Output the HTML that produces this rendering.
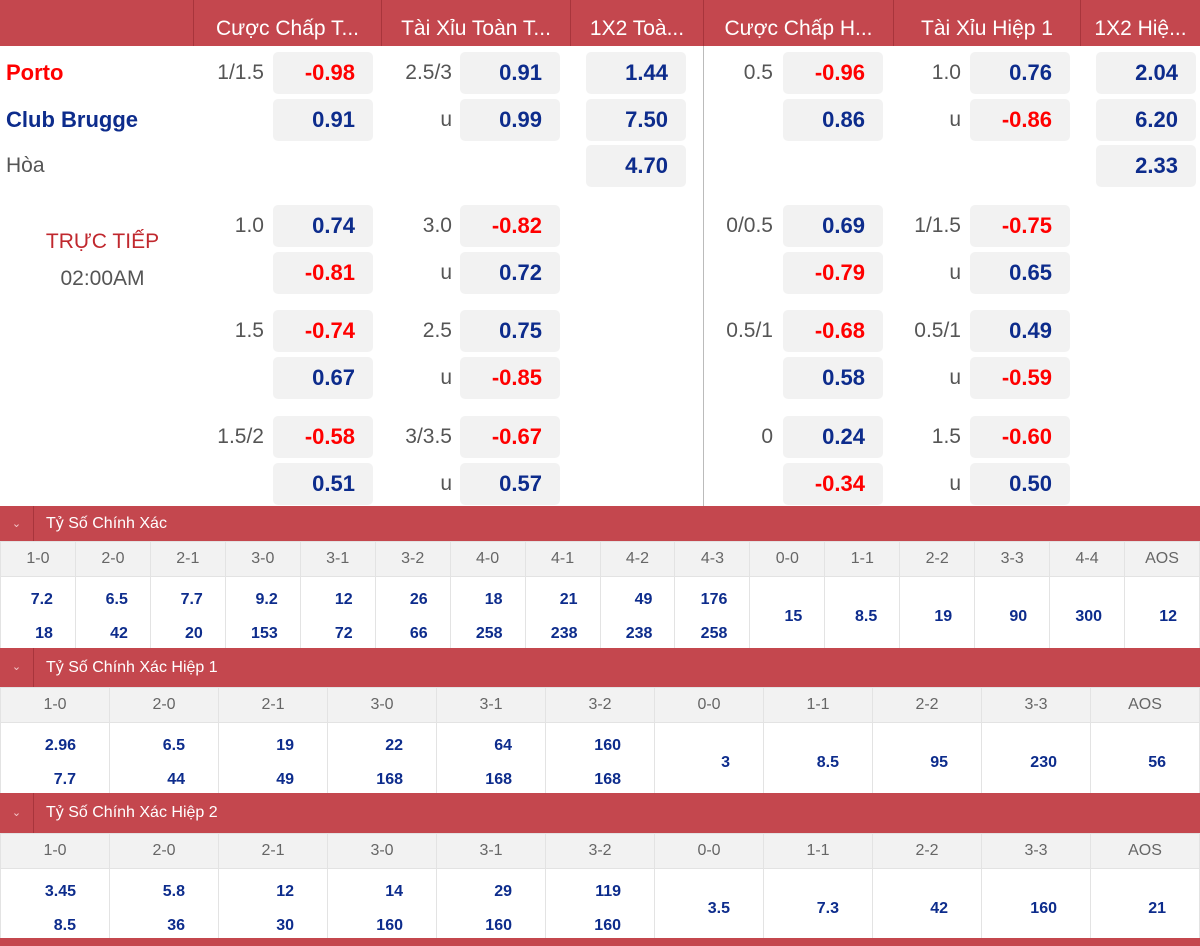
<!DOCTYPE html>
<html><head><meta charset="utf-8">
<style>
*{margin:0;padding:0;box-sizing:border-box}
body{width:1200px;height:946px;overflow:hidden;background:#fff;font-family:"Liberation Sans","DejaVu Sans",sans-serif;position:relative}
.hd{position:absolute;left:0;top:0;width:1200px;height:46px;background:#c4474e}
.hd div{position:absolute;top:0;height:46px;line-height:58px;color:#fff;font-size:21px;text-align:center;border-left:1px solid #a8353c;white-space:nowrap;overflow:hidden}
.l{position:absolute;text-align:right;font-size:21px;color:#555;height:42px;line-height:42px}
.b{position:absolute;width:100px;height:42px;line-height:42px;background:#f2f2f2;border-radius:5px;text-align:right;padding-right:18px;font-size:22px;font-weight:bold}
.r{color:#f00}.u{color:#0d2c8c}
.sec{position:absolute;left:0;width:1200px;background:#c4474e;color:#fff;font-size:16px}
.sec .ch{position:absolute;left:0;top:0;width:34px;height:100%;border-right:1px solid #a8353c;text-align:center;font-size:11px;line-height:36px;color:#f3c8ca}
.sec .t{position:absolute;left:46px;top:0;line-height:36px}
table{position:absolute;left:0;width:1200px;border-collapse:collapse;table-layout:fixed}
td{border:1px solid #e3e3e3;text-align:center}
tr.g td{background:#f2f2f2;color:#666;font-size:16px;height:35px}
tr.v td{color:#0d2c8c;font-weight:bold;font-size:16px;height:70px;text-align:right;line-height:34px;padding-top:6px}
</style></head><body>
<div class="hd">
<div style="left:193px;width:188px">Cược Chấp T...</div>
<div style="left:381px;width:189px">Tài Xỉu Toàn T...</div>
<div style="left:570px;width:133px">1X2 Toà...</div>
<div style="left:703px;width:190px">Cược Chấp H...</div>
<div style="left:893px;width:187px">Tài Xỉu Hiệp 1</div>
<div style="left:1080px;width:120px">1X2 Hiệ...</div>
</div>
<div style="position:absolute;left:703px;top:46px;width:1px;height:460px;background:#bbb"></div>

<div class="l" style="left:6px;top:52px;font-weight:bold;color:#f00;font-size:22px;text-align:left">Porto</div>
<div class="l" style="left:6px;top:99px;font-weight:bold;color:#0d2c8c;font-size:22px;text-align:left">Club Brugge</div>
<div class="l" style="left:6px;top:145px;text-align:left">Hòa</div>
<div style="position:absolute;left:0;width:205px;top:230px;text-align:center;font-size:21px;color:#c0282e">TRỰC TIẾP</div>
<div style="position:absolute;left:0;width:205px;top:267px;text-align:center;font-size:21px;color:#555">02:00AM</div>

<div class="l" style="left:160px;width:104px;top:52px">1/1.5</div>
<div class="b r" style="left:273px;top:52px">-0.98</div>
<div class="b u" style="left:273px;top:99px">0.91</div>
<div class="l" style="left:350px;width:102px;top:52px">2.5/3</div>
<div class="l" style="left:350px;width:102px;top:99px">u</div>
<div class="b u" style="left:460px;top:52px">0.91</div>
<div class="b u" style="left:460px;top:99px">0.99</div>
<div class="b u" style="left:586px;top:52px">1.44</div>
<div class="b u" style="left:586px;top:99px">7.50</div>
<div class="b u" style="left:586px;top:145px">4.70</div>
<div class="l" style="left:670px;width:103px;top:52px">0.5</div>
<div class="b r" style="left:783px;top:52px">-0.96</div>
<div class="b u" style="left:783px;top:99px">0.86</div>
<div class="l" style="left:860px;width:101px;top:52px">1.0</div>
<div class="l" style="left:860px;width:101px;top:99px">u</div>
<div class="b u" style="left:970px;top:52px">0.76</div>
<div class="b r" style="left:970px;top:99px">-0.86</div>
<div class="b u" style="left:1096px;top:52px">2.04</div>
<div class="b u" style="left:1096px;top:99px">6.20</div>
<div class="b u" style="left:1096px;top:145px">2.33</div>

<div class="l" style="left:160px;width:104px;top:205px">1.0</div>
<div class="b u" style="left:273px;top:205px">0.74</div>
<div class="b r" style="left:273px;top:252px">-0.81</div>
<div class="l" style="left:350px;width:102px;top:205px">3.0</div>
<div class="l" style="left:350px;width:102px;top:252px">u</div>
<div class="b r" style="left:460px;top:205px">-0.82</div>
<div class="b u" style="left:460px;top:252px">0.72</div>
<div class="l" style="left:670px;width:103px;top:205px">0/0.5</div>
<div class="b u" style="left:783px;top:205px">0.69</div>
<div class="b r" style="left:783px;top:252px">-0.79</div>
<div class="l" style="left:860px;width:101px;top:205px">1/1.5</div>
<div class="l" style="left:860px;width:101px;top:252px">u</div>
<div class="b r" style="left:970px;top:205px">-0.75</div>
<div class="b u" style="left:970px;top:252px">0.65</div>

<div class="l" style="left:160px;width:104px;top:310px">1.5</div>
<div class="b r" style="left:273px;top:310px">-0.74</div>
<div class="b u" style="left:273px;top:357px">0.67</div>
<div class="l" style="left:350px;width:102px;top:310px">2.5</div>
<div class="l" style="left:350px;width:102px;top:357px">u</div>
<div class="b u" style="left:460px;top:310px">0.75</div>
<div class="b r" style="left:460px;top:357px">-0.85</div>
<div class="l" style="left:670px;width:103px;top:310px">0.5/1</div>
<div class="b r" style="left:783px;top:310px">-0.68</div>
<div class="b u" style="left:783px;top:357px">0.58</div>
<div class="l" style="left:860px;width:101px;top:310px">0.5/1</div>
<div class="l" style="left:860px;width:101px;top:357px">u</div>
<div class="b u" style="left:970px;top:310px">0.49</div>
<div class="b r" style="left:970px;top:357px">-0.59</div>

<div class="l" style="left:160px;width:104px;top:416px">1.5/2</div>
<div class="b r" style="left:273px;top:416px">-0.58</div>
<div class="b u" style="left:273px;top:463px">0.51</div>
<div class="l" style="left:350px;width:102px;top:416px">3/3.5</div>
<div class="l" style="left:350px;width:102px;top:463px">u</div>
<div class="b r" style="left:460px;top:416px">-0.67</div>
<div class="b u" style="left:460px;top:463px">0.57</div>
<div class="l" style="left:670px;width:103px;top:416px">0</div>
<div class="b u" style="left:783px;top:416px">0.24</div>
<div class="b r" style="left:783px;top:463px">-0.34</div>
<div class="l" style="left:860px;width:101px;top:416px">1.5</div>
<div class="l" style="left:860px;width:101px;top:463px">u</div>
<div class="b r" style="left:970px;top:416px">-0.60</div>
<div class="b u" style="left:970px;top:463px">0.50</div>

<div class="sec" style="top:506px;height:35px"><div class="ch">&#8964;</div><div class="t" style="line-height:35px">Tỷ Số Chính Xác</div></div>
<table style="top:541px">
<tr class="g"><td>1-0</td><td>2-0</td><td>2-1</td><td>3-0</td><td>3-1</td><td>3-2</td><td>4-0</td><td>4-1</td><td>4-2</td><td>4-3</td><td>0-0</td><td>1-1</td><td>2-2</td><td>3-3</td><td>4-4</td><td>AOS</td></tr>
<tr class="v">
<td style="padding-right:22px">7.2<br>18</td><td style="padding-right:22px">6.5<br>42</td><td style="padding-right:22px">7.7<br>20</td><td style="padding-right:22px">9.2<br>153</td><td style="padding-right:22px">12<br>72</td><td style="padding-right:22px">26<br>66</td><td style="padding-right:22px">18<br>258</td><td style="padding-right:22px">21<br>238</td><td style="padding-right:22px">49<br>238</td><td style="padding-right:22px">176<br>258</td><td style="padding-right:22px">15</td><td style="padding-right:22px">8.5</td><td style="padding-right:22px">19</td><td style="padding-right:22px">90</td><td style="padding-right:22px">300</td><td style="padding-right:22px">12</td></tr>
</table>
<div class="sec" style="top:648px;height:39px"><div class="ch" style="line-height:39px">&#8964;</div><div class="t" style="line-height:39px">Tỷ Số Chính Xác Hiệp 1</div></div>
<table style="top:687px">
<tr class="g"><td>1-0</td><td>2-0</td><td>2-1</td><td>3-0</td><td>3-1</td><td>3-2</td><td>0-0</td><td>1-1</td><td>2-2</td><td>3-3</td><td>AOS</td></tr>
<tr class="v"><td style="padding-right:33px">2.96<br>7.7</td><td style="padding-right:33px">6.5<br>44</td><td style="padding-right:33px">19<br>49</td><td style="padding-right:33px">22<br>168</td><td style="padding-right:33px">64<br>168</td><td style="padding-right:33px">160<br>168</td><td style="padding-right:33px">3</td><td style="padding-right:33px">8.5</td><td style="padding-right:33px">95</td><td style="padding-right:33px">230</td><td style="padding-right:33px">56</td></tr>
</table>
<div class="sec" style="top:793px;height:40px"><div class="ch" style="line-height:40px">&#8964;</div><div class="t" style="line-height:40px">Tỷ Số Chính Xác Hiệp 2</div></div>
<table style="top:833px">
<tr class="g"><td>1-0</td><td>2-0</td><td>2-1</td><td>3-0</td><td>3-1</td><td>3-2</td><td>0-0</td><td>1-1</td><td>2-2</td><td>3-3</td><td>AOS</td></tr>
<tr class="v"><td style="padding-right:33px">3.45<br>8.5</td><td style="padding-right:33px">5.8<br>36</td><td style="padding-right:33px">12<br>30</td><td style="padding-right:33px">14<br>160</td><td style="padding-right:33px">29<br>160</td><td style="padding-right:33px">119<br>160</td><td style="padding-right:33px">3.5</td><td style="padding-right:33px">7.3</td><td style="padding-right:33px">42</td><td style="padding-right:33px">160</td><td style="padding-right:33px">21</td></tr>
</table>
<div class="sec" style="top:938px;height:8px"></div>
</body></html>
